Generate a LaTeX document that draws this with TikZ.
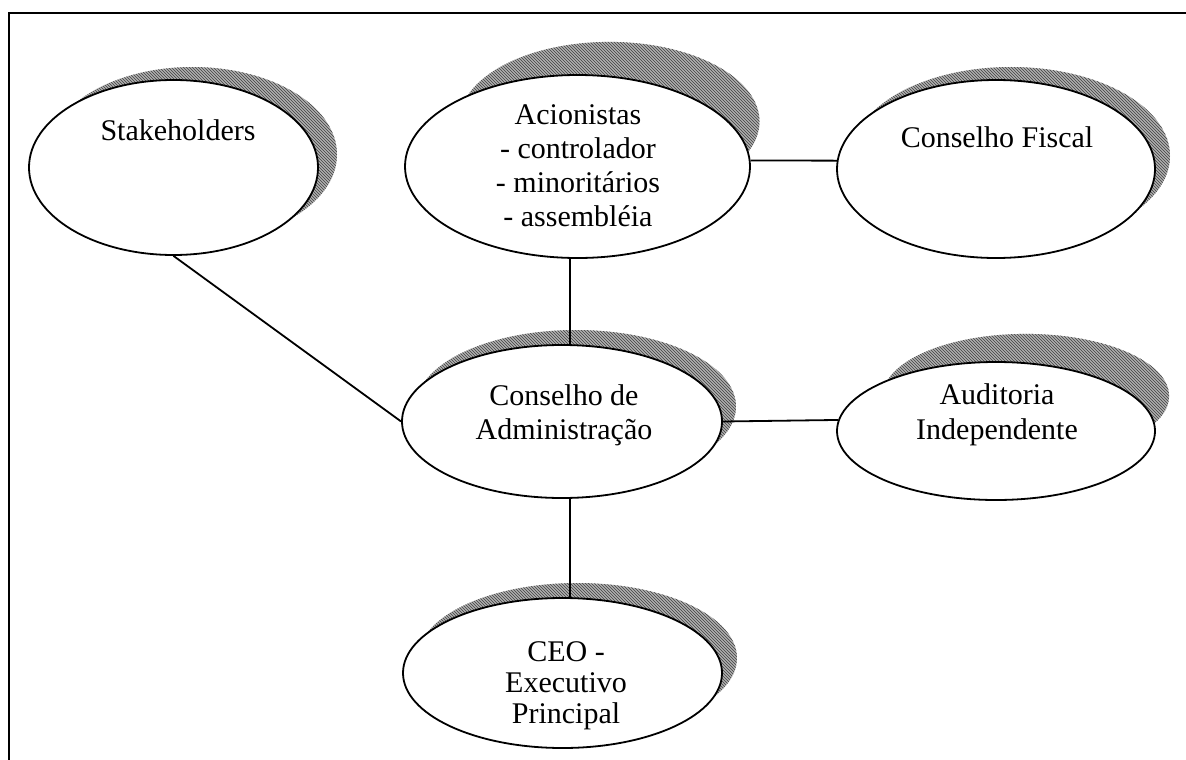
\documentclass[tikz,border=0pt]{standalone}
\usepackage{fontspec}
\setmainfont{Liberation Serif}
\usetikzlibrary{shapes.geometric,patterns}
\begin{document}
\begin{tikzpicture}[x=1pt,y=-1pt,
  bubble/.style={ellipse,draw=black,line width=1.8pt,fill=white,inner sep=0pt},
  shadowfill/.style={fill=gray!62,postaction={pattern=north west lines,pattern color=black!75}},
  caption/.style={align=center,font=\fontsize{30}{34}\selectfont,inner sep=0pt},
  link/.style={line width=1.8pt}]
\useasboundingbox (0,0) rectangle (1186,760);
% outer frame (only the top and left sides fall inside the page)
\draw[line width=2pt] (9,775) -- (9,13) -- (1200,13);

% shadows, offset up and to the right of each ellipse
\path[shadowfill] (192.5,154.5) ellipse [x radius=144.5, y radius=87.5];
\path[shadowfill] (609.5,121.5) ellipse [x radius=150, y radius=79.6];
\path[shadowfill] (1011,156) ellipse [x radius=159, y radius=89];
\path[shadowfill] (576,406.5) ellipse [x radius=160, y radius=76.5];
\path[shadowfill] (1026,396) ellipse [x radius=143.1, y radius=62.1];
\path[shadowfill] (577.5,658) ellipse [x radius=159.5, y radius=75];

% ellipses
\node[bubble,minimum width=289pt,minimum height=175pt] (stake) at (173.5,167.5) {};
\node[bubble,minimum width=345pt,minimum height=183pt] (acio) at (577.5,166.5) {};
\node[bubble,minimum width=318pt,minimum height=178pt] (fiscal) at (996,169) {};
\node[bubble,minimum width=320pt,minimum height=153pt] (adm) at (562,421.5) {};
\node[bubble,minimum width=318pt,minimum height=138pt] (audit) at (996,431) {};
\node[bubble,minimum width=319pt,minimum height=150pt] (ceo) at (562.5,673) {};

% labels
\node[caption] (stake-t) at (178,130) {Stakeholders};
\node[caption] (acio-t) at (578,166) {Acionistas\\- controlador\\- minoritários\\- assembléia};
\node[caption] (fiscal-t) at (997,137) {Conselho Fiscal};
\node[caption] (adm-t) at (564,415) {Conselho de\\Administração};
\node[caption,font=\fontsize{30}{35}\selectfont] (audit-t) at (997,415) {Auditoria\\Independente};
\node[caption,font=\fontsize{30}{31}\selectfont] (ceo-t) at (566,686) {CEO -\\Executivo\\Principal};

% connectors
\draw[link] (stake.south) -- (adm.west);
\draw[link] ([xshift=-7.5pt]acio.south) -- ([xshift=8pt]adm.north);
\draw[link] (acio.2) -- (fiscal.177);
\draw[link] (adm.east) -- (audit.176);
\draw[link] ([xshift=8pt]adm.south) -- ([xshift=7.5pt]ceo.north);
\end{tikzpicture}
\end{document}
